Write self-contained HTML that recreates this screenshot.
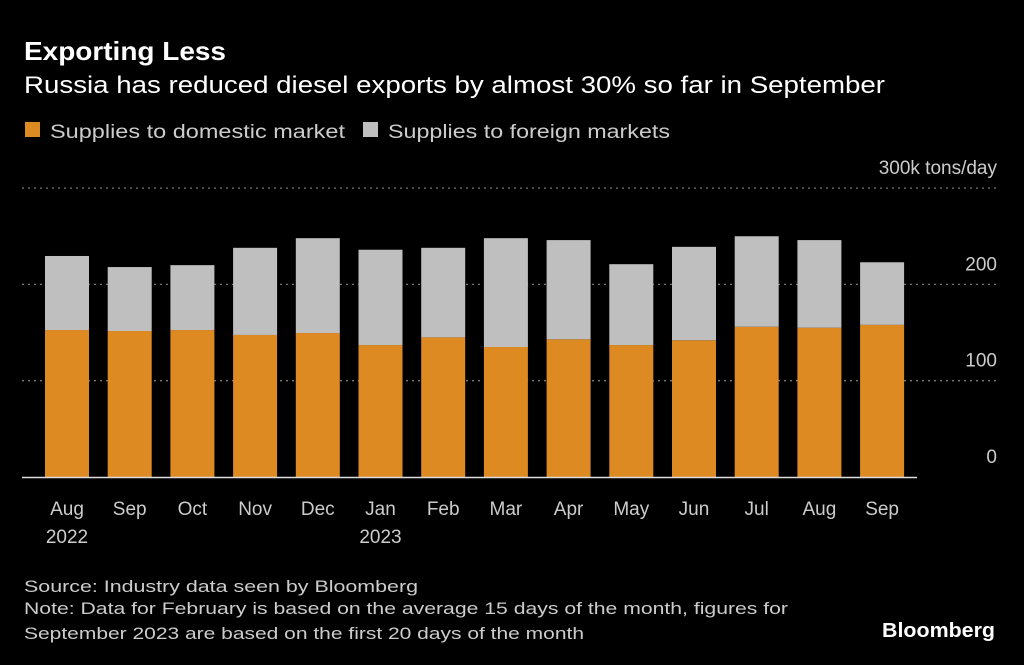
<!DOCTYPE html>
<html><head><meta charset="utf-8"><style>
html,body{margin:0;padding:0;background:#000;}
svg{display:block;font-family:"Liberation Sans",sans-serif;}
</style></head><body>
<svg id="chart" width="1024" height="665" viewBox="0 0 1024 665" xmlns="http://www.w3.org/2000/svg">
<rect width="1024" height="665" fill="#000"/>
<text x="24" y="60" fill="#fff" font-size="26" font-weight="bold" textLength="202" lengthAdjust="spacingAndGlyphs">Exporting Less</text>
<text x="24" y="93" fill="#fff" font-size="24" textLength="861" lengthAdjust="spacingAndGlyphs">Russia has reduced diesel exports by almost 30% so far in September</text>
<g>
<rect x="25" y="122" width="15" height="15" fill="#de8a22"/>
<text x="50" y="138" fill="#ccc" font-size="19" textLength="295" lengthAdjust="spacingAndGlyphs">Supplies to domestic market</text>
<rect x="363" y="122" width="15" height="15" fill="#bfbfbf"/>
<text x="388" y="138" fill="#ccc" font-size="19" textLength="282" lengthAdjust="spacingAndGlyphs">Supplies to foreign markets</text>
</g>
<g id="grid"></g>
<g id="bars"></g>
<g id="xlabels"></g>
<text x="24" y="592" fill="#ccc" font-size="17" textLength="394" lengthAdjust="spacingAndGlyphs">Source: Industry data seen by Bloomberg</text>
<text x="24" y="614" fill="#ccc" font-size="17" textLength="764" lengthAdjust="spacingAndGlyphs">Note: Data for February is based on the average 15 days of the month, figures for</text>
<text x="24" y="639" fill="#ccc" font-size="17" textLength="560" lengthAdjust="spacingAndGlyphs">September 2023 are based on the first 20 days of the month</text>
<text x="995" y="637" fill="#fff" font-size="20" font-weight="bold" text-anchor="end" textLength="113" lengthAdjust="spacingAndGlyphs">Bloomberg</text>
</svg>
<script>
const categories=["Aug","Sep","Oct","Nov","Dec","Jan","Feb","Mar","Apr","May","Jun","Jul","Aug","Sep"];
const yearLabels=["2022","","","","","2023","","","","","","","",""];
const domestic=[152.6,151.6,152.6,147.5,149.5,137,145,135,143,137,142,156,155,158];
const foreign=[76.9,66.4,67.4,90.5,98.5,99,93,113,103,84,97,94,91,65];
const yTicks=[0,100,200,300];
const yTickLabels=["0","100","200","300k tons/day"];
const NS="http://www.w3.org/2000/svg";
const y0=477,pxPer=0.963;
const y=v=>y0-v*pxPer;
const x0=45,step=62.7,bw=44;
const x=i=>x0+i*step;
function mk(tag,attrs,parent){const e=document.createElementNS(NS,tag);for(const k in attrs)e.setAttribute(k,attrs[k]);parent.appendChild(e);return e;}
const grid=document.getElementById('grid');
yTicks.forEach((t,i)=>{
  if(t>0){const l=mk('line',{x1:22,x2:997,y1:y(t),y2:y(t),stroke:'#777','stroke-width':1.3,'stroke-dasharray':'2 4'},grid);
  
  }
  const tx=mk('text',{x:997,y:y(t)-(i==3?14:14),fill:'#ccc','font-size':19,'text-anchor':'end'},grid);
  
  
  tx.textContent=yTickLabels[i];
});
const bars=document.getElementById('bars');
categories.forEach((c,i)=>{
  const d=mk('rect',{x:x(i),y:y(domestic[i]),width:bw,height:domestic[i]*pxPer,fill:'#de8a22'},bars);
  
  
  const f=mk('rect',{x:x(i),y:y(domestic[i]+foreign[i]),width:bw,height:foreign[i]*pxPer,fill:'#bfbfbf'},bars);
  
  
  const t=mk('text',{x:x(i)+bw/2,y:515,fill:'#ccc','font-size':19,'text-anchor':'middle'},document.getElementById('xlabels'));
  
  
  t.textContent=c;
  if(yearLabels[i]){const yt=mk('text',{x:x(i)+bw/2,y:543,fill:'#ccc','font-size':19,'text-anchor':'middle'},document.getElementById('xlabels'));
  
  
  yt.textContent=yearLabels[i];}
});
const ax=mk('line',{x1:22,x2:917,y1:y0+0.5,y2:y0+0.5,stroke:'#ddd','stroke-width':1.5},bars);


</script>
</body></html>
